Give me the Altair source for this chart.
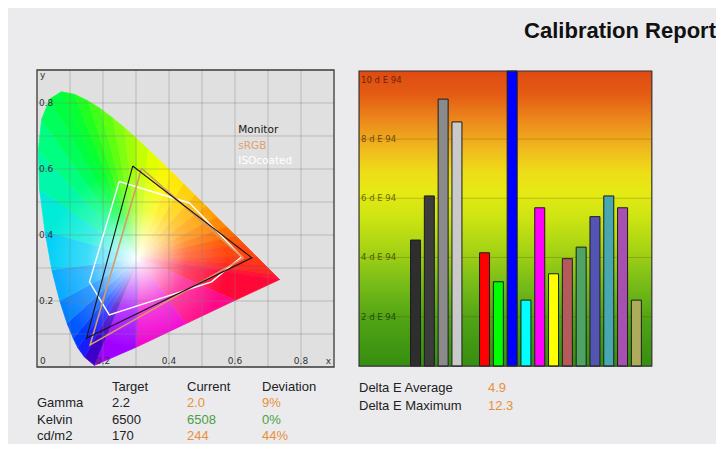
import altair as alt
import pandas as pd

# ---------------- data ----------------
# spectral locus of the chromaticity diagram (x, y),
# followed by points along the purple line
locus_x = [0.174, 0.144, 0.124, 0.110, 0.091, 0.069, 0.045, 0.024, 0.008, 0.004,
           0.014, 0.039, 0.074, 0.114, 0.155, 0.193, 0.230, 0.266, 0.302, 0.337,
           0.373, 0.409, 0.444, 0.479, 0.513, 0.545, 0.575, 0.603, 0.627, 0.666,
           0.692, 0.719, 0.735, 0.600, 0.450, 0.300]
locus_y = [0.005, 0.030, 0.058, 0.087, 0.133, 0.201, 0.295, 0.413, 0.538, 0.655,
           0.750, 0.812, 0.834, 0.826, 0.806, 0.782, 0.754, 0.724, 0.692, 0.659,
           0.625, 0.590, 0.555, 0.520, 0.487, 0.454, 0.424, 0.397, 0.373, 0.334,
           0.308, 0.281, 0.265, 0.202, 0.131, 0.060]
locus_colors = ["#3c00c8", "#1a1aff", "#0038ff", "#0058ff", "#0080ff", "#00a8ff",
                "#00d0f8", "#00ecd8", "#00f8a8", "#00ff80", "#00ff5a", "#00ff40",
                "#08ff30", "#20ff20", "#40ff18", "#60ff10", "#80ff10", "#a0ff08",
                "#c4ff04", "#e2ff00", "#f8f800", "#ffe800", "#ffd000", "#ffb800",
                "#ffa000", "#ff8800", "#ff7000", "#ff5800", "#ff4810", "#ff3818",
                "#ff2820", "#ff1830", "#ff0838", "#ff0888", "#f000d0", "#a000ff"]
white_point = (0.31, 0.33)

monitor_x = [0.290, 0.651, 0.150]
monitor_y = [0.609, 0.331, 0.087]
srgb_x = [0.317, 0.625, 0.161]
srgb_y = [0.602, 0.330, 0.067]
iso_x = [0.249, 0.462, 0.620, 0.529, 0.219, 0.159]
iso_y = [0.562, 0.497, 0.334, 0.258, 0.158, 0.258]

gamut_names = ["Monitor", "sRGB", "ISOcoated"]
gamut_colors = ["#161616", "#e0a070", "#ffffff"]

grid_vals = [0.1, 0.2, 0.3, 0.4, 0.5, 0.6, 0.7, 0.8]
tick_vals = [0.2, 0.4, 0.6, 0.8]
tick_text = ["0.2", "0.4", "0.6", "0.8"]

bar_slots = [0, 1, 2, 3, 5, 6, 7, 8, 9, 10, 11, 12, 13, 14, 15, 16]
bar_values = [4.59, 6.08, 9.35, 8.58, 4.16, 3.18, 12.3, 2.56, 5.68, 3.45, 3.96,
              4.35, 5.38, 6.08, 5.68, 2.56]
bar_colors = ["#2e2e2e", "#3c3c3c", "#8a8a8a", "#cacaca", "#ff0000", "#00ff00",
              "#0000ff", "#00ffff", "#ff00ff", "#ffff00", "#b45a5a", "#4ea462",
              "#5454b4", "#48a8b2", "#a850b2", "#acac5c"]
de_ticks = [2, 4, 6, 8, 10]

table_rows = ["Gamma", "Kelvin", "cd/m2"]
table_header = ["", "Target", "Current", "Deviation"]
target = ["2.2", "6500", "170"]
current = ["2.0", "6508", "244"]
deviation = ["9%", "0%", "44%"]
status = ["warn", "ok", "warn"]

delta_labels = ["Delta E Average", "Delta E Maximum"]
delta_values = ["4.9", "12.3"]

# ---------------- layout ----------------
W, H = 708, 383
PAD_TOP = 53
CIE_X = alt.Scale(domain=[-0.08788, 2.05758], nice=False, zero=False)
CIE_Y = alt.Scale(domain=[-0.23333, 0.92727], nice=False, zero=False)
BAR_X = alt.Scale(domain=[-29.164, 21.407], nice=False, zero=False)
BAR_Y = alt.Scale(domain=[-2.3007, 10.6385], nice=False, zero=False)
BX0, BX1, BY0, BY1 = -4.093, 17.12, 0.33, 10.30

ORANGE = "#e8903a"
GREEN = "#4aa040"
TXT = "#222222"
one = pd.DataFrame({"a": [0]})


def cx(field=None, datum=None):
    if field is not None:
        return alt.X(field, scale=CIE_X, axis=None)
    return alt.X(datum=datum, scale=CIE_X, axis=None)


def cy(field=None, datum=None):
    if field is not None:
        return alt.Y(field, scale=CIE_Y, axis=None)
    return alt.Y(datum=datum, scale=CIE_Y, axis=None)


# ---- CIE panel ----
cie_bg = alt.Chart(one).mark_rect(fill="#e0e0e0").encode(
    x=cx(datum=0), x2=alt.X2(datum=0.9), y=cy(datum=0), y2=alt.Y2(datum=0.9))

fan_rows = []
n = len(locus_x)
for i in range(n):
    j = (i + 1) % n
    pts = [white_point, (locus_x[i], locus_y[i]), (locus_x[j], locus_y[j])]
    for o, (px, py) in enumerate(pts):
        fan_rows.append({"sector": i, "o": o, "x": px, "y": py, "c": locus_colors[i]})
fan_df = pd.DataFrame(fan_rows)
fan = alt.Chart(fan_df).mark_line(strokeWidth=0.8, strokeJoin="round").encode(
    x=cx("x:Q"), y=cy("y:Q"), order="o:Q", detail="sector:N",
    fill=alt.Fill("c:N", scale=None), stroke=alt.Stroke("c:N", scale=None))

loc_df = pd.DataFrame({"x": locus_x + [locus_x[0]], "y": locus_y + [locus_y[0]],
                       "o": list(range(n + 1))})
glow_fill = alt.RadialGradient(
    gradient="radial", x1=0.42, y1=0.61, r1=0, x2=0.42, y2=0.61, r2=0.33,
    stops=[alt.GradientStop(color="rgba(255,255,255,1)", offset=0),
           alt.GradientStop(color="rgba(255,255,255,0.7)", offset=0.22),
           alt.GradientStop(color="rgba(255,255,255,0.25)", offset=0.55),
           alt.GradientStop(color="rgba(255,255,255,0)", offset=1)])
glow = alt.Chart(loc_df).mark_line(fill=glow_fill, strokeOpacity=0).encode(
    x=cx("x:Q"), y=cy("y:Q"), order="o:Q")

grid_df = pd.DataFrame({"g": grid_vals})
vgrid = alt.Chart(grid_df).mark_rule(color="#808080", opacity=0.4, strokeWidth=1).encode(
    x=cx("g:Q"), y=cy(datum=0), y2=alt.Y2(datum=0.9))
hgrid = alt.Chart(grid_df).mark_rule(color="#808080", opacity=0.4, strokeWidth=1).encode(
    y=cy("g:Q"), x=cx(datum=0), x2=alt.X2(datum=0.9))


def polygon(xs, ys, color, width):
    d = pd.DataFrame({"x": xs + [xs[0]], "y": ys + [ys[0]], "o": list(range(len(xs) + 1))})
    return alt.Chart(d).mark_line(color=color, strokeWidth=width, strokeJoin="miter").encode(
        x=cx("x:Q"), y=cy("y:Q"), order="o:Q")


iso_line = polygon(iso_x, iso_y, gamut_colors[2], 1.4)
srgb_line = polygon(srgb_x, srgb_y, "#d89a66", 1.6)
mon_line = polygon(monitor_x, monitor_y, gamut_colors[0], 1.1)

cie_frame = alt.Chart(one).mark_rect(fillOpacity=0, stroke="#3a3a3a", strokeWidth=1.3).encode(
    x=cx(datum=0), x2=alt.X2(datum=0.9), y=cy(datum=0), y2=alt.Y2(datum=0.9))

lab_font = dict(font="DejaVu Sans", fontSize=9, color="#333333")
xt = alt.Chart(pd.DataFrame({"v": tick_vals, "t": tick_text})).mark_text(
    baseline="bottom", dy=-1, **lab_font).encode(x=cx("v:Q"), y=cy(datum=0), text="t:N")
yt = alt.Chart(pd.DataFrame({"v": tick_vals, "t": tick_text})).mark_text(
    align="left", baseline="middle", dx=2, **lab_font).encode(x=cx(datum=0), y=cy("v:Q"), text="t:N")
zero_lab = alt.Chart(one).mark_text(align="left", baseline="bottom", dx=3, dy=-1, **lab_font).encode(
    x=cx(datum=0), y=cy(datum=0), text=alt.value("0"))
x_lab = alt.Chart(one).mark_text(align="right", baseline="bottom", dx=-3, dy=-1, **lab_font).encode(
    x=cx(datum=0.9), y=cy(datum=0), text=alt.value("x"))
y_lab = alt.Chart(one).mark_text(align="left", baseline="top", dx=3, dy=1, **lab_font).encode(
    x=cx(datum=0), y=cy(datum=0.9), text=alt.value("y"))

legend_layers = []
for i, (nm, col) in enumerate(zip(gamut_names, gamut_colors)):
    legend_layers.append(
        alt.Chart(one).mark_text(align="left", baseline="middle", font="DejaVu Sans",
                                 fontSize=10.5, color=col, dy=i * 15.5).encode(
            x=cx(datum=0.61), y=cy(datum=0.718), text=alt.value(nm)))

cie = alt.layer(cie_bg, fan, glow, vgrid, hgrid, iso_line, srgb_line, mon_line,
                cie_frame, xt, yt, zero_lab, x_lab, y_lab, *legend_layers)

# ---- Delta E bar panel ----
def bx(field=None, datum=None):
    if field is not None:
        return alt.X(field, scale=BAR_X, axis=None)
    return alt.X(datum=datum, scale=BAR_X, axis=None)


def by(field=None, datum=None):
    if field is not None:
        return alt.Y(field, scale=BAR_Y, axis=None)
    return alt.Y(datum=datum, scale=BAR_Y, axis=None)


bar_bg_fill = alt.LinearGradient(
    gradient="linear", x1=0, x2=0, y1=0, y2=1,
    stops=[alt.GradientStop(color="#de4a12", offset=0.0),
           alt.GradientStop(color="#e45c14", offset=0.08),
           alt.GradientStop(color="#ec8a1c", offset=0.17),
           alt.GradientStop(color="#f0b81e", offset=0.26),
           alt.GradientStop(color="#eedc18", offset=0.34),
           alt.GradientStop(color="#e6ea14", offset=0.41),
           alt.GradientStop(color="#cce412", offset=0.50),
           alt.GradientStop(color="#a8d414", offset=0.60),
           alt.GradientStop(color="#78bc18", offset=0.72),
           alt.GradientStop(color="#4ea214", offset=0.85),
           alt.GradientStop(color="#368e10", offset=1.0)])
bar_bg = alt.Chart(one).mark_rect(fill=bar_bg_fill).encode(
    x=bx(datum=BX0), x2=alt.X2(datum=BX1), y=by(datum=BY0), y2=alt.Y2(datum=BY1))

tick_df = pd.DataFrame({"v": de_ticks, "t": [f"{v} d E 94" for v in de_ticks]})
bar_grid = alt.Chart(tick_df).transform_filter("datum.v < 10").mark_rule(
    color="#5a3a00", opacity=0.25, strokeWidth=1).encode(
    y=by("v:Q"), x=bx(datum=BX0), x2=alt.X2(datum=BX1))

bar_df = pd.DataFrame({"slot": bar_slots, "value": bar_values, "color": bar_colors})
bars = alt.Chart(bar_df).transform_calculate(
    shown=f"min(datum.value, {BY1})").mark_bar(size=10, stroke="#1c1c1c", strokeWidth=1).encode(
    x=bx("slot:Q"), y=by("shown:Q"), y2=alt.Y2(datum=BY0),
    fill=alt.Fill("color:N", scale=None))

bar_labels = alt.Chart(tick_df).mark_text(
    align="left", baseline="middle", dx=2, font="DejaVu Sans", fontSize=8.5,
    color="#000000", opacity=0.55).encode(x=bx(datum=BX0), y=by("v:Q"), text="t:N")

bar_frame = alt.Chart(one).mark_rect(fillOpacity=0, stroke="#333333", strokeWidth=1.2).encode(
    x=bx(datum=BX0), x2=alt.X2(datum=BX1), y=by(datum=BY0), y2=alt.Y2(datum=BY1))

bar_panel = alt.layer(bar_bg, bar_grid, bars, bar_labels, bar_frame)

# ---- tables ----
cells = []
for c, h in enumerate(table_header):
    if h:
        cells.append({"col": c, "row": 0, "text": h, "color": TXT})
for r, name in enumerate(table_rows):
    col = GREEN if status[r] == "ok" else ORANGE
    cells.append({"col": 0, "row": r + 1, "text": name, "color": TXT})
    cells.append({"col": 1, "row": r + 1, "text": target[r], "color": TXT})
    cells.append({"col": 2, "row": r + 1, "text": current[r], "color": col})
    cells.append({"col": 3, "row": r + 1, "text": deviation[r], "color": col})
table = alt.Chart(pd.DataFrame(cells)).mark_text(
    align="left", baseline="middle", font="Liberation Sans", fontSize=13).encode(
    x=alt.X("col:Q", scale=alt.Scale(domain=[0, 3], range=[29, 254]), axis=None),
    y=alt.Y("row:Q", scale=alt.Scale(domain=[0, 3], range=[326, 375]), axis=None),
    text="text:N", color=alt.Color("color:N", scale=None))

dcells = []
for r, (lab, val) in enumerate(zip(delta_labels, delta_values)):
    dcells.append({"col": 0, "row": r, "text": lab, "color": TXT})
    dcells.append({"col": 1, "row": r, "text": val, "color": ORANGE})
delta = alt.Chart(pd.DataFrame(dcells)).mark_text(
    align="left", baseline="middle", font="Liberation Sans", fontSize=13).encode(
    x=alt.X("col:Q", scale=alt.Scale(domain=[0, 1], range=[351, 480]), axis=None),
    y=alt.Y("row:Q", scale=alt.Scale(domain=[0, 1], range=[327, 345]), axis=None),
    text="text:N", color=alt.Color("color:N", scale=None))

chart = alt.layer(cie, bar_panel, table, delta).resolve_scale(
    x="independent", y="independent").properties(
    width=W, height=H,
    autosize=alt.AutoSizeParams(type="none"),
    padding={"left": 0, "top": PAD_TOP, "right": 0, "bottom": 0},
    background="#ebebee",
    title=alt.Title("Calibration Report", anchor="end", fontSize=22,
                    font="Liberation Sans", fontWeight="bold", color="#111111",
                    offset=18),
).configure_view(strokeWidth=0)

chart.save("out.html", embed_options={"renderer": "svg", "actions": False})
